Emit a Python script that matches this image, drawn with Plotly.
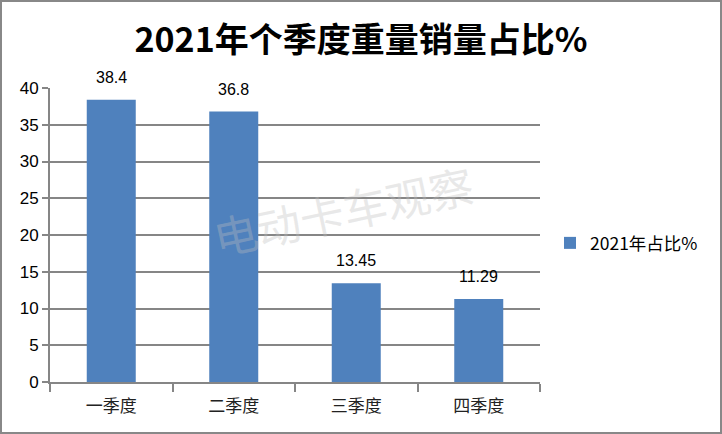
import plotly.graph_objects as go

categories = ["一季度", "二季度", "三季度", "四季度"]
values = [38.4, 36.8, 13.45, 11.29]
value_labels = ["38.4", "36.8", "13.45", "11.29"]
series_name = "2021年占比%"
title_text = "2021年个季度重量销量占比%"
y_ticks = [0, 5, 10, 15, 20, 25, 30, 35, 40]

W, H = 722, 434
ML, MR, MT, MB = 50, 182, 88, 52
PW, PH = W - ML - MR, H - MT - MB

fig = go.Figure()
fig.add_trace(go.Bar(
    x=categories, y=values, name=series_name,
    marker=dict(color="#4F81BD", line=dict(width=0)),
    showlegend=True,
))

for c, v, t in zip(categories, values, value_labels):
    fig.add_annotation(x=c, y=v, text=t, showarrow=False, yanchor="bottom",
                       yshift=12, font=dict(size=16, color="#000000",
                                            family="Liberation Sans, Arial"))

fig.update_layout(
    width=W, height=H,
    margin=dict(l=ML, r=MR, t=MT, b=MB),
    paper_bgcolor="white", plot_bgcolor="white",
    bargap=0.6,
    title=dict(text="<b>" + title_text + "</b>", x=0.5, xanchor="center",
               y=1 - 40 / H, yanchor="middle",
               font=dict(size=34, color="#000000",
                         family="Noto Sans CJK SC, Liberation Sans")),
    legend=dict(x=(550 - ML) / PW, xanchor="left", y=(H - MB - 243) / PH,
                yanchor="middle", itemwidth=30,
                font=dict(size=17.5, color="#000000", family="Noto Sans CJK SC"),
                bgcolor="rgba(0,0,0,0)"),
    showlegend=True,
    font=dict(family="Noto Sans CJK SC"),
)

fig.update_yaxes(
    range=[0, 40], tickvals=y_ticks, showgrid=True, gridcolor="#868686",
    gridwidth=2, showline=True, linecolor="#868686", linewidth=2,
    ticks="outside", ticklen=6, tickwidth=2, tickcolor="#868686",
    tickfont=dict(size=17, color="#000000", family="Liberation Sans, Arial"),
    zeroline=False, fixedrange=True,
)
fig.update_xaxes(
    showline=True, linecolor="#868686", linewidth=2,
    ticks="outside", tickson="boundaries", ticklen=8, tickwidth=2,
    tickcolor="#868686", ticklabelstandoff=8,
    tickfont=dict(size=17, color="#222222", family="Noto Sans CJK SC"),
    showgrid=False, fixedrange=True,
)

# watermark
fig.add_annotation(xref="paper", yref="paper",
                   x=(343 - ML) / PW, y=(H - MB - 210) / PH,
                   text="电动卡车观察", showarrow=False, textangle=-12,
                   font=dict(size=44, color="rgba(190,190,190,0.35)",
                             family="Noto Sans CJK SC"))

# outer border
fig.add_shape(type="rect", xref="paper", yref="paper",
              x0=(1 - ML) / PW, x1=(W - 1 - ML) / PW,
              y0=(-MB + 1) / PH, y1=(H - MB - 1) / PH,
              line=dict(color="#888888", width=2), layer="above")

fig.write_html("out.html", config={"displayModeBar": False},
               post_script="document.body.style.margin='0';document.body.style.overflow='hidden';")
